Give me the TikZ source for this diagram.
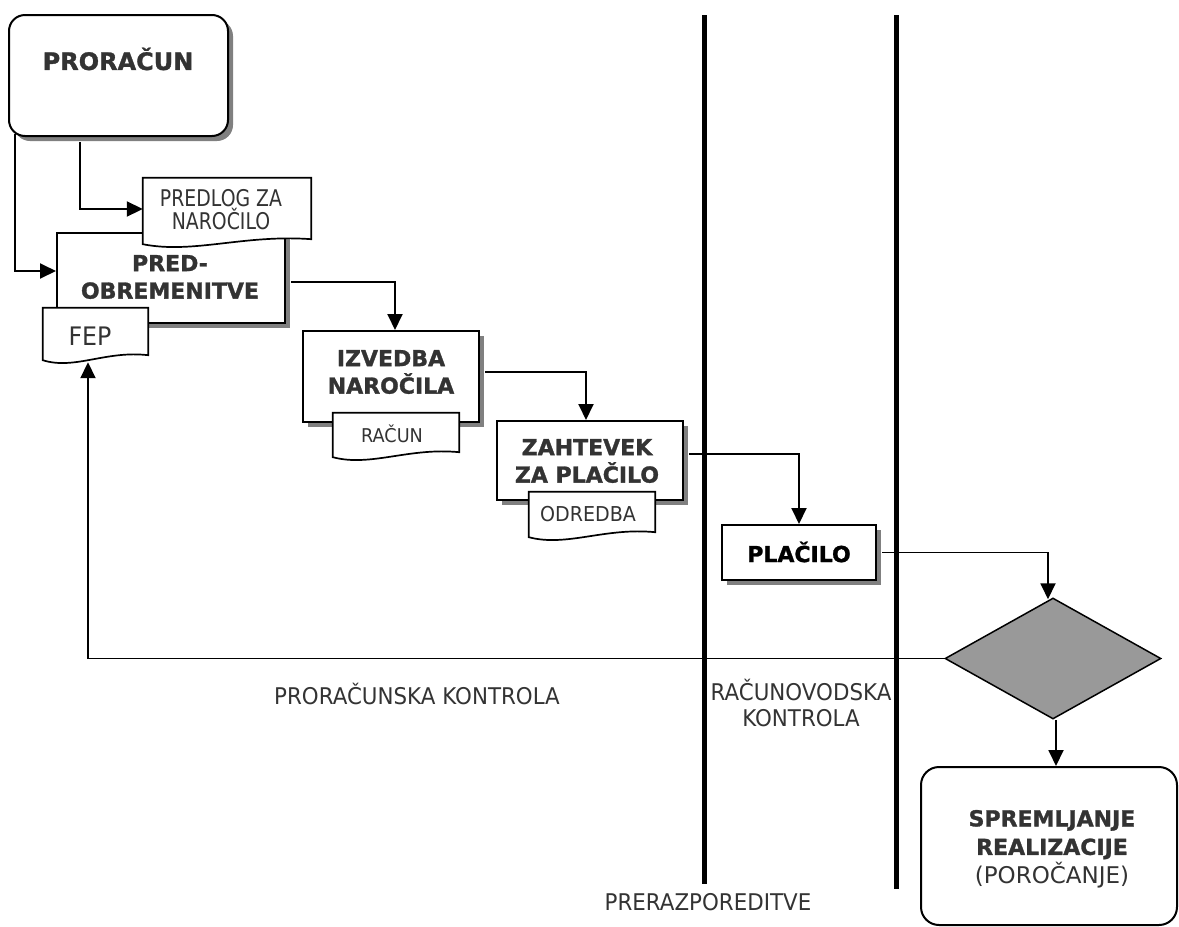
\documentclass[tikz,border=0pt]{standalone}
\usepackage{fontspec}
\setmainfont{DejaVu Sans}[FakeStretch=0.93]
\newfontfamily\headfont{DejaVu Sans}[BoldFeatures={FakeBold=1.3}]
\newfontfamily\narrowfont{DejaVu Sans}[FakeStretch=0.82]
\usetikzlibrary{arrows.meta,shadows,shapes.geometric,calc}
\definecolor{ink}{HTML}{333333}
\definecolor{shade}{HTML}{808080}
\definecolor{decision}{HTML}{999999}

% document symbol: straight top and sides, wavy bottom edge
\newcommand\docpath[1]{%
  \draw[docline] (#1.south west) -- (#1.north west) -- (#1.north east)
    -- ($(#1.south east)+(0,-5)$)
    .. controls ($(#1.south west)!0.6!(#1.south east)+(0,-10)$)
    and ($(#1.south west)!0.3!(#1.south east)+(0,10)$) .. cycle;}

\begin{document}
\begin{tikzpicture}[x=1pt,y=-1pt,
  box/.style={draw=black, line width=2pt, fill=white, inner sep=0pt,
    drop shadow={shadow xshift=5pt, shadow yshift=-5pt, fill=shade, opacity=1}},
  roundbox/.style={draw=black, line width=2pt, fill=white, inner sep=0pt,
    rounded corners=16pt},
  docframe/.style={inner sep=0pt, draw=none, fill=none},
  docline/.style={draw=black, line width=1.7pt, fill=white},
  head/.style={text=ink, align=center, inner sep=0pt,
    font=\headfont\bfseries\fontsize{22}{27.5}\selectfont},
  plain/.style={text=ink, align=center, inner sep=0pt,
    font=\fontsize{23}{26}\selectfont},
  conn/.style={draw=black, line width=1.9pt, -{Triangle[length=16pt,width=15pt]}},
  lane/.style={draw=black, line width=5pt},
]
\useasboundingbox (0,0) rectangle (1179,927);

% swimlane separators
\coordinate (l1t) at (704,15);  \coordinate (l1b) at (704,884);
\coordinate (l2t) at (896,15);  \coordinate (l2b) at (896,889);
\draw[lane] (l1t) -- (l1b);
\draw[lane] (l2t) -- (l2b);

% process boxes
\node[roundbox, minimum width=219pt, minimum height=121pt,
  drop shadow={shadow xshift=5pt, shadow yshift=-5pt, fill=shade, opacity=1}]
  (pror) at (118.5,75.5) {};
\node[box, minimum width=228pt, minimum height=90pt] (pred) at (171,278) {};
\node[box, minimum width=176pt, minimum height=91pt] (izv) at (391,376.5) {};
\node[box, minimum width=186pt, minimum height=79pt] (zah) at (590,460.5) {};
\node[box, minimum width=154pt, minimum height=55pt] (plac) at (799,552.5) {};
\node[diamond, draw=black, line width=1.5pt, fill=decision, inner sep=0pt,
  minimum width=216pt, minimum height=121pt, aspect=1.785] (dia) at (1053,658.5) {};
\node[roundbox, rounded corners=18pt, minimum width=256pt, minimum height=158pt]
  (sprem) at (1049,846) {};

% documents
\node[docframe, minimum width=168pt, minimum height=66pt] (predlog) at (227,211) {};
\docpath{predlog}
\node[docframe, minimum width=105pt, minimum height=52pt] (fep) at (95.5,334) {};
\docpath{fep}
\node[docframe, minimum width=126pt, minimum height=44pt] (racun) at (396,435) {};
\docpath{racun}
\node[docframe, minimum width=126pt, minimum height=45pt] (odredba) at (592,514.5) {};
\docpath{odredba}

% box texts
\node[head, font=\headfont\bfseries\fontsize{24}{28}\selectfont] (pror-t) at (118,59) {PRORAČUN};
\node[head] (pred-t) at (170,277) {PRED-\\OBREMENITVE};
\node[head] (izv-t) at (391,372) {IZVEDBA\\NAROČILA};
\node[head] (zah-t) at (587,461) {ZAHTEVEK\\ZA PLAČILO};
\node[head, text=black] (plac-t) at (799,552) {PLAČILO};
\node[head, font=\headfont\bfseries\fontsize{22}{28.5}\selectfont] (sprem-t) at (1052,849)
  {SPREMLJANJE\\REALIZACIJE\\{\mdseries\fontsize{23}{28.5}\selectfont(POROČANJE)}};

% document texts
\node[plain, font=\narrowfont\fontsize{23}{23}\selectfont] (predlog-t) at (221,210) {PREDLOG ZA\\NAROČILO};
\node[plain, font=\fontsize{25.5}{30}\selectfont] (fep-t) at (90,336) {FEP};
\node[plain, font=\fontsize{19}{22}\selectfont] (racun-t) at (392,434) {RAČUN};
\node[plain, font=\fontsize{20.5}{23}\selectfont] (odredba-t) at (588,514) {ODREDBA};

% free labels
\node[plain] (pk) at (417,694) {PRORAČUNSKA KONTROLA};
\node[plain] (rk) at (801,703) {RAČUNOVODSKA\\KONTROLA};
\node[plain] (prer) at (708,902) {PRERAZPOREDITVE};

% flow connectors
\draw[conn] ([xshift=7pt,yshift=3pt]pror.south west) |- ([yshift=7pt]pred.west);
\draw[conn] ([xshift=72pt,yshift=-5pt]pror.south west) |- ([yshift=2pt]predlog.west);
\draw[conn] ([xshift=5pt,yshift=-4pt]pred.east) -| ([xshift=4pt]izv.north);
\draw[conn] ([xshift=5pt,yshift=4.5pt]izv.east) -| ([xshift=-4pt]zah.north);
\draw[conn] ([xshift=5pt,yshift=6.5pt]zah.east) -| (plac.north);
\draw[conn] ([xshift=5pt]plac.east) -| ([xshift=-5pt,yshift=-2pt]dia.north);
\draw[conn] (dia.west) -| ([xshift=-7.5pt,yshift=-2pt]fep.south);
\draw[conn] ([xshift=3pt]dia.south) -- ([xshift=3pt]dia.south |- sprem.north);
\end{tikzpicture}
\end{document}
